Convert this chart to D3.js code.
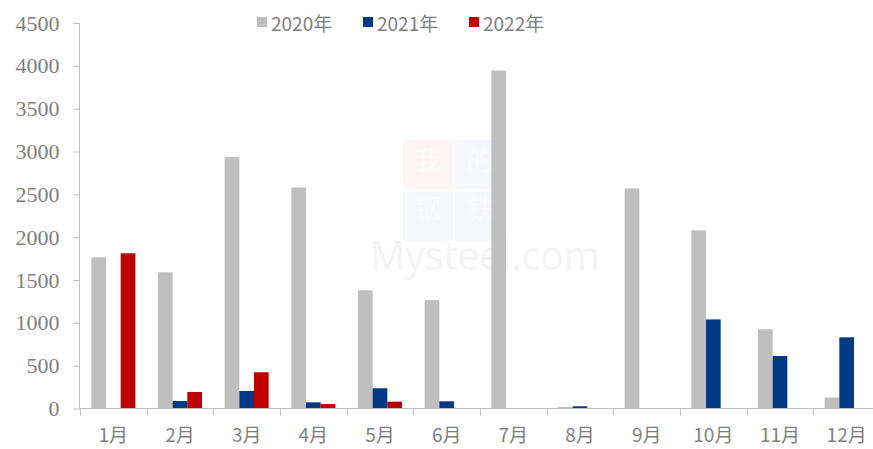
<!DOCTYPE html>
<html>
<head>
<meta charset="utf-8">
<script src="https://cdn.jsdelivr.net/npm/d3@7"></script>
<style>
  html, body { margin: 0; padding: 0; background: #fff; overflow: hidden; }
  svg { display: block; }
</style>
</head>
<body>
<div id="viz"></div>
<script>
var months = ["1月", "2月", "3月", "4月", "5月", "6月", "7月", "8月", "9月", "10月", "11月", "12月"];
var series = ["2020年", "2021年", "2022年"];
var colors = ["#bfbfbf", "#003a86", "#c00000"];
var v2020 = [1765, 1590, 2935, 2580, 1380, 1265, 3945, 18, 2570, 2080, 925, 128];
var v2021 = [0, 88, 205, 72, 236, 84, 0, 26, 0, 1040, 613, 831];
var v2022 = [1812, 193, 423, 52, 80, 0, 0, 0, 0, 0, 0, 0];
var yTicks = [0, 500, 1000, 1500, 2000, 2500, 3000, 3500, 4000, 4500];

var width = 873, height = 449;
var allValues = [v2020, v2021, v2022];

var svg = d3.select("#viz").append("svg")
  .attr("width", width)
  .attr("height", height);

// faint watermark (logo boxes + site name)
var wm = svg.append("g");
[["#e04040", 403, 140], ["#4060b0", 455, 140], ["#4060b0", 403, 192], ["#4060b0", 455, 192]].forEach(function(d) {
  wm.append("rect").attr("x", d[1]).attr("y", d[2]).attr("width", 50).attr("height", 49)
    .attr("fill", d[0]).attr("opacity", 0.05);
});
svg.append("text").attr("x", 370).attr("y", 270)
  .attr("font-family", "'Open Sans', sans-serif").attr("font-size", 40)
  .attr("textLength", 230).attr("lengthAdjust", "spacingAndGlyphs")
  .attr("fill", "#f3f3f3").text("Mysteel.com");
[["我", 403, 140], ["的", 455, 140], ["钢", 403, 188], ["铁", 455, 188]].forEach(function(d) {
  wm.append("text").attr("x", d[1] + 25).attr("y", d[2] + 30)
    .attr("text-anchor", "middle").attr("font-family", "'Noto Sans CJK SC'").attr("font-size", 26)
    .attr("fill", "#fbfbfb").text(d[0]);
});

var x = d3.scaleBand().domain(months).range([80, 880]);
var x1 = d3.scaleBand().domain(series).range([0, 44]);
var y = d3.scaleLinear().domain([0, 4500]).range([408.5, 23]);

// y axis
var yAxis = svg.append("g")
  .attr("transform", "translate(79.5,0)")
  .call(d3.axisLeft(y).tickValues(yTicks).tickFormat(d3.format("d")).tickSize(6).tickPadding(14))
  .attr("font-family", "Liberation Serif")
  .attr("font-size", 22);
yAxis.select(".domain").attr("stroke", "#bfbfbf").attr("d", "M0," + y(4500) + "V" + y(0));
yAxis.selectAll(".tick line").attr("stroke", "#bfbfbf");
yAxis.selectAll(".tick text")
  .attr("fill", "#7f7f7f")
  .attr("font-family", "Liberation Serif");

// bars
var groups = svg.append("g").selectAll("g")
  .data(months)
  .enter().append("g")
  .attr("transform", function(d) { return "translate(" + (x(d) + (x.bandwidth() - 44) / 2) + ",0)"; });

groups.selectAll("rect")
  .data(function(d, i) {
    return series.map(function(s, j) { return { s: s, c: colors[j], v: allValues[j][i] }; });
  })
  .enter().append("rect")
  .attr("x", function(d) { return x1(d.s); })
  .attr("width", x1.bandwidth())
  .attr("y", function(d) { return y(d.v); })
  .attr("height", function(d) { return y(0) - y(d.v); })
  .attr("fill", function(d) { return d.c; });

// x axis
var xAxis = svg.append("g")
  .attr("transform", "translate(0," + 408.5 + ")")
  .call(d3.axisBottom(x).tickSize(0).tickPadding(20));
xAxis.select(".domain").attr("stroke", "#bfbfbf").attr("d", "M79.5,0H880");
xAxis.selectAll(".tick text")
  .attr("fill", "#7f7f7f")
  .style("font-family", "'Noto Sans CJK SC', sans-serif")
  .style("font-size", "19px");
xAxis.selectAll(".sep")
  .data(months)
  .enter().append("line")
  .attr("class", "sep")
  .attr("x1", function(d) { return Math.round(x(d)) + 0.5; })
  .attr("x2", function(d) { return Math.round(x(d)) + 0.5; })
  .attr("y1", 0).attr("y2", 7)
  .attr("stroke", "#bfbfbf");

// legend
var legendX = [257, 363, 469];
var legend = svg.append("g").selectAll("g")
  .data(series)
  .enter().append("g")
  .attr("transform", function(d, i) { return "translate(" + legendX[i] + ",0)"; });
legend.append("rect")
  .attr("x", 0).attr("y", 17).attr("width", 10).attr("height", 10)
  .attr("fill", function(d, i) { return colors[i]; });
legend.append("text")
  .attr("x", 14).attr("y", 31)
  .attr("fill", "#7f7f7f")
  .style("font-family", "'Noto Sans CJK SC', sans-serif")
  .style("font-size", "19px")
  .text(function(d) { return d; });
</script>
</body>
</html>
